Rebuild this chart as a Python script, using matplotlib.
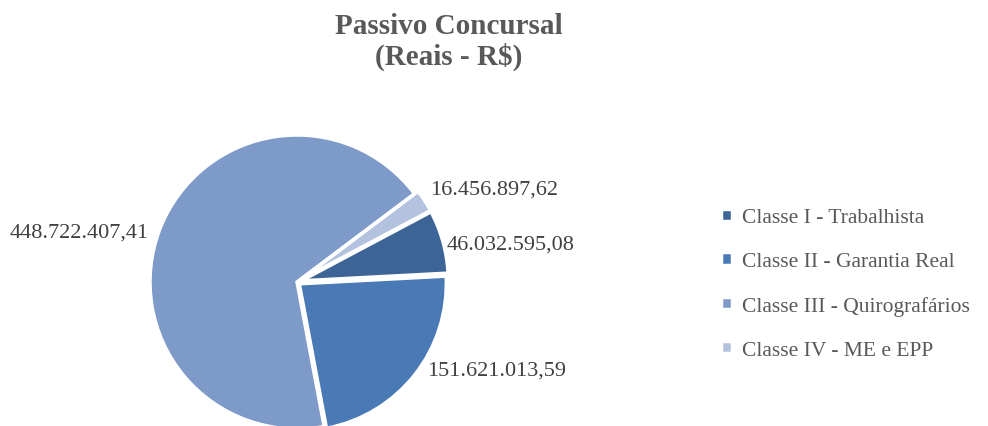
import matplotlib.pyplot as plt

categories = ['Classe I - Trabalhista', 'Classe II - Garantia Real',
              'Classe III - Quirografários', 'Classe IV - ME e EPP']
values = [46032595.08, 151621013.59, 448722407.41, 16456897.62]
value_labels = ['46.032.595,08', '151.621.013,59', '448.722.407,41', '16.456.897,62']
colors = ['#3D6497', '#4A7AB5', '#7E9AC8', '#B3C3DF']


def main():
    plt.rcParams['font.family'] = ['Liberation Serif', 'DejaVu Serif']
    fig = plt.figure(figsize=(9.88, 4.27), dpi=100)

    ax = fig.add_axes([150 / 988, -3 / 427, 294 / 988, 294 / 427])
    wedges, texts = ax.pie(values, labels=value_labels, colors=colors,
                           startangle=28, counterclock=False,
                           explode=[0.03, 0.02, 0, 0.03],
                           labeldistance=1.08,
                           wedgeprops=dict(edgecolor='white', linewidth=2.5),
                           textprops=dict(fontsize=16, color='#404040'))
    # small nudges to match the best-fit label placement
    nudges = [(-0.054, -0.041), (0.02, 0.082), (0.0, -0.054), (-0.034, 0.034)]
    for t, (dx, dy) in zip(texts, nudges):
        x, y = t.get_position()
        t.set_position((x + dx, y + dy))
    ax.set_xlim(-1, 1)
    ax.set_ylim(-1, 1)
    ax.set_aspect('equal')

    fig.text(449 / 988, 1 - 42 / 427, 'Passivo Concursal\n(Reais - R$)',
             ha='center', va='center', fontsize=21, fontweight='bold',
             color='#595959', linespacing=1.15)

    fig.legend(wedges, categories, loc='center left',
               bbox_to_anchor=(702 / 988, 1 - 285 / 427), frameon=False,
               fontsize=15.5, labelcolor='#595959', handlelength=0.5,
               handleheight=0.5, handletextpad=0.45, labelspacing=1.15)

    fig.savefig('out.png', dpi=100)


if __name__ == "__main__":
    main()
